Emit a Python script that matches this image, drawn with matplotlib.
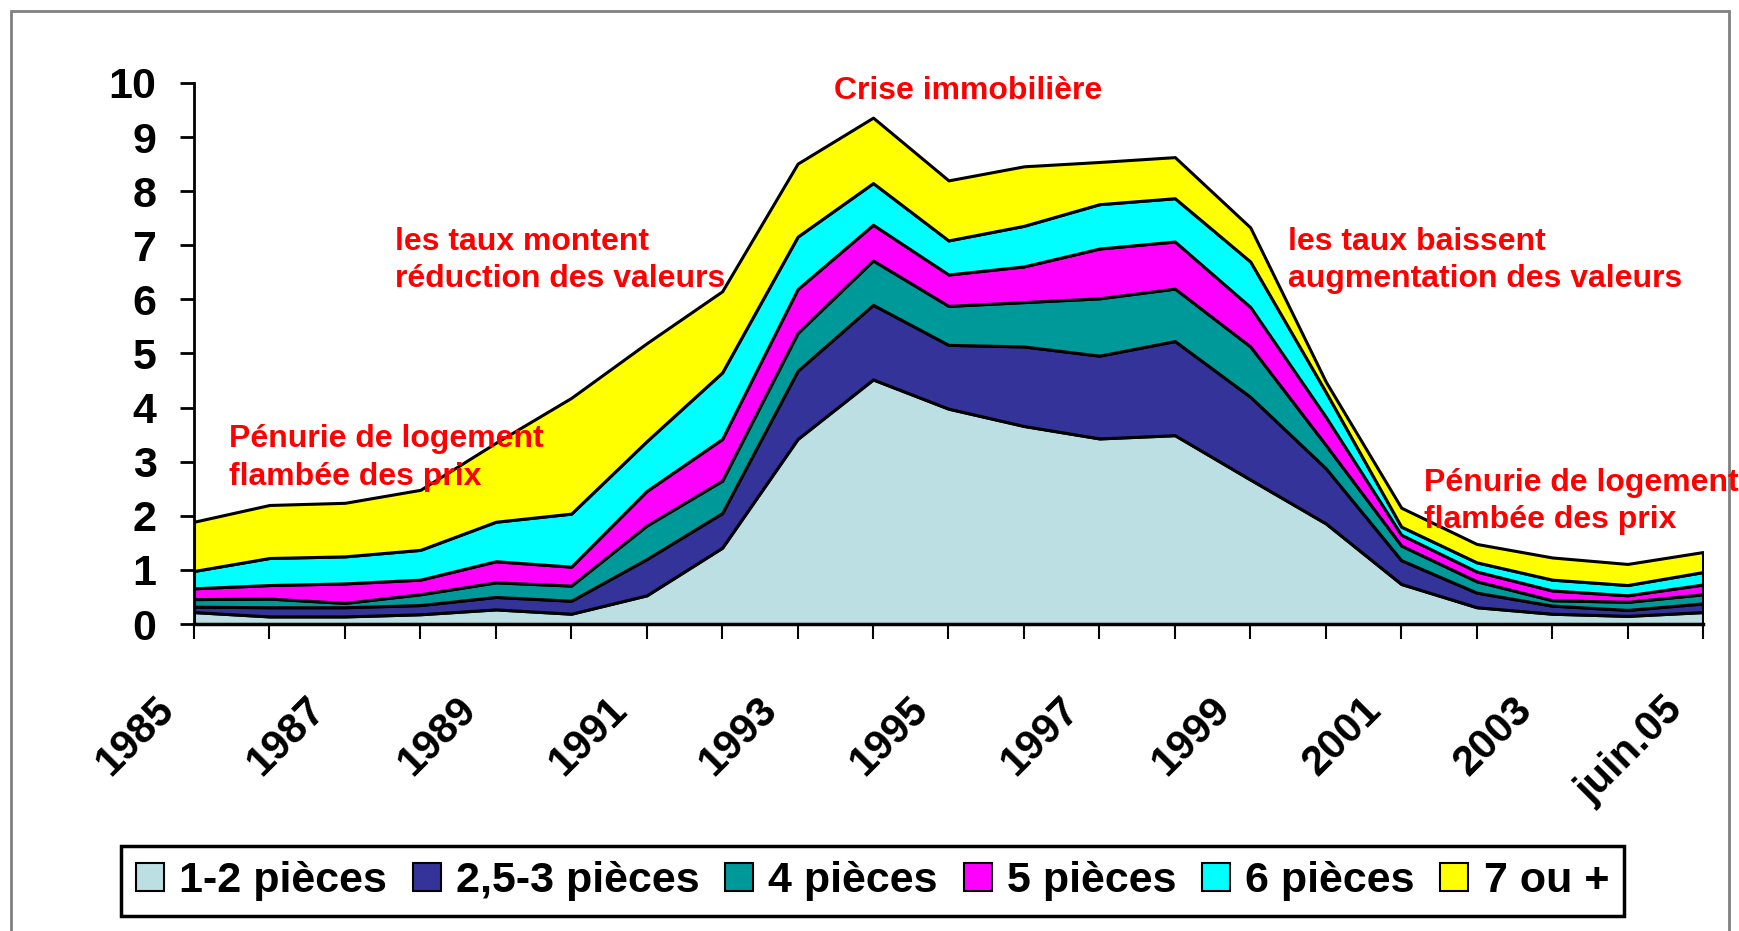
import numpy as np
import matplotlib.pyplot as plt
import matplotlib.transforms as mtransforms
from matplotlib.patches import Patch, Rectangle

plt.rcParams['font.family'] = ['Liberation Sans', 'DejaVu Sans']

annees = ['1985', '1986', '1987', '1988', '1989', '1990', '1991', '1992', '1993', '1994',
          '1995', '1996', '1997', '1998', '1999', '2000', '2001', '2002', '2003', '2004', 'juin.05']

p_1_2 = [0.22, 0.14, 0.14, 0.18, 0.27, 0.19, 0.53, 1.41, 3.42, 4.52, 3.98, 3.66, 3.43, 3.49, 2.67, 1.86, 0.74, 0.31, 0.19, 0.15, 0.22]
p_25_3 = [0.10, 0.17, 0.17, 0.17, 0.23, 0.24, 0.67, 0.64, 1.26, 1.38, 1.18, 1.47, 1.53, 1.74, 1.53, 1.02, 0.44, 0.27, 0.15, 0.11, 0.16]
p_4 = [0.14, 0.16, 0.08, 0.20, 0.27, 0.28, 0.62, 0.60, 0.70, 0.82, 0.72, 0.82, 1.06, 0.97, 0.93, 0.43, 0.27, 0.21, 0.10, 0.15, 0.17]
p_5 = [0.20, 0.25, 0.36, 0.27, 0.39, 0.35, 0.64, 0.77, 0.81, 0.66, 0.58, 0.66, 0.92, 0.87, 0.73, 0.52, 0.20, 0.18, 0.18, 0.12, 0.18]
p_6 = [0.32, 0.50, 0.50, 0.55, 0.73, 0.98, 0.92, 1.23, 0.97, 0.77, 0.63, 0.75, 0.82, 0.80, 0.84, 0.46, 0.15, 0.17, 0.20, 0.19, 0.23]
p_7 = [0.91, 0.98, 0.99, 1.11, 1.46, 2.14, 1.81, 1.50, 1.35, 1.21, 1.11, 1.10, 0.78, 0.76, 0.63, 0.19, 0.35, 0.34, 0.41, 0.39, 0.37]

noms = ['1-2 pièces', '2,5-3 pièces', '4 pièces', '5 pièces', '6 pièces', '7 ou +']
couleurs = ['#BBDFE3', '#333399', '#009999', '#FF00FF', '#00FFFF', '#FFFF00']

W, H = 1740, 931
fig = plt.figure(figsize=(W / 100, H / 100), dpi=100)
ax = fig.add_axes([194 / W, 1 - 624 / H, (1703 - 194) / W, (624 - 83) / H])

x = np.arange(len(annees))
ax.stackplot(x, p_1_2, p_25_3, p_4, p_5, p_6, p_7, colors=couleurs,
             edgecolor='black', linewidth=2.2)

ax.set_xlim(0, len(annees) - 1)
ax.set_ylim(0, 10)
ax.set_yticks(range(0, 11))
ax.set_xticks(x)
ax.set_xticklabels([a if i % 2 == 0 else '' for i, a in enumerate(annees)],
                   rotation=45, ha='right', va='top', fontsize=30, fontweight='bold')
for lab in ax.get_yticklabels():
    lab.set_fontsize(31)
    lab.set_fontweight('bold')
ax.tick_params(axis='y', direction='out', length=10, width=2, pad=17)
ax.tick_params(axis='x', direction='out', length=11, width=1.5, pad=36)
off = mtransforms.ScaledTranslation(-12 / 100, 0, fig.dpi_scale_trans)
for lab in ax.get_xticklabels():
    lab.set_transform(lab.get_transform() + off)

for s in ['top', 'right']:
    ax.spines[s].set_visible(False)
ax.spines['left'].set_linewidth(2)
ax.spines['bottom'].set_linewidth(2.5)
ax.set_facecolor('none')

# textes rouges
def texte(px, py, s):
    fig.text(px / W, 1 - py / H, s, color='red', fontsize=23, fontweight='bold',
             ha='left', va='baseline')

texte(834, 99, 'Crise immobilière')
texte(395, 250, 'les taux montent')
texte(395, 287, 'réduction des valeurs')
texte(229, 447, 'Pénurie de logement')
texte(229, 485, 'flambée des prix')
texte(1288, 250, 'les taux baissent')
texte(1288, 287, 'augmentation des valeurs')
texte(1424, 491, 'Pénurie de logement')
texte(1424, 528, 'flambée des prix')

# cadre gris
fig.patches.append(Rectangle((11 / W, -0.02), (1729 - 11) / W, 1.02 - 11 / H,
                             transform=fig.transFigure, fill=False,
                             edgecolor='#808080', linewidth=2))

handles = [Patch(facecolor=c, edgecolor='black', linewidth=1.5) for c in couleurs]
leg = fig.legend(handles, noms, ncol=6, loc='center',
                 bbox_to_anchor=((117 + 1628) / 2 / W, 1 - (847 + 915) / 2 / H),
                 frameon=True, fancybox=False, edgecolor='black', framealpha=1,
                 handlelength=0.65, handleheight=0.65, handletextpad=0.35,
                 columnspacing=0.6, borderpad=0.35,
                 prop={'size': 31, 'weight': 'bold'})
leg.get_frame().set_linewidth(2.5)

fig.savefig('out.png', dpi=100, facecolor='white')
